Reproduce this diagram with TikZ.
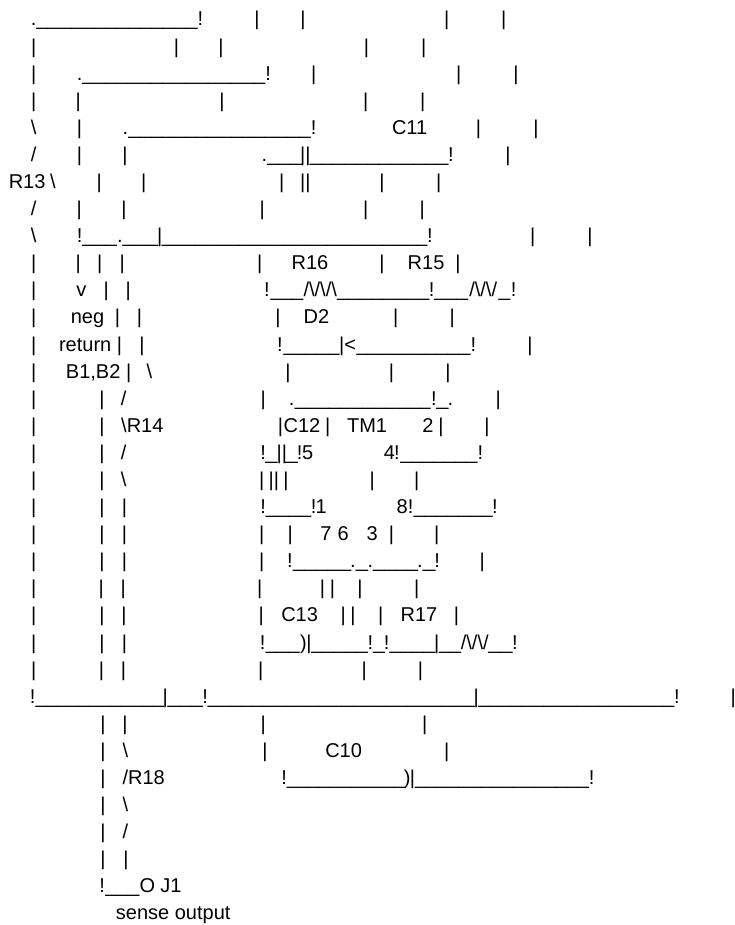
\documentclass[tikz,border=0pt]{standalone}
\usepackage{fontspec}
\usepackage{graphicx}
\setmainfont{Liberation Sans}
\newcount\tkn
\tikzset{tok/.style={inner sep=0pt,outer sep=0pt,anchor=base,font=\fontsize{20}{24}\selectfont,text=black}}
% current text line
\newcommand\LL[1]{\pgfmathsetmacro\cury{925-26-27.09*(#1-1)}}
% token centred at x given in reference-measure units
\newcommand\tk[2]{\global\advance\tkn by 1\relax
  \pgfmathsetmacro\curx{#1/2.136}%
  \node[tok] (t\the\tkn) at (\curx pt,\cury pt) {#2};}
\newcommand\bs{\textbackslash}
\newcommand\tkb[1]{\foreach \zz in {#1}{\tk{\zz}{|}}}
% run of underscores between two x positions
\newcommand\ru[2]{\pgfmathtruncatemacro\rn{max(1,round((#2-#1)/23.75))}%
  \pgfmathsetmacro\rs{(#2-#1)/2.136/(\rn*11.12)}%
  \pgfmathsetmacro\rc{(#1+#2)/2}%
  \tk{\rc}{\scalebox{\rs}[1]{\foreach \ii in {1,...,\rn}{\textunderscore}}}}
\begin{document}
\begin{tikzpicture}
\useasboundingbox (0,0) rectangle (734pt,925pt);
\fill[white] (0,0) rectangle (734pt,925pt);
\LL{1} \tk{72}{.} \ru{78}{422} \tk{428}{!} \tkb{549,647,954,1076}
\LL{2} \tkb{72,377,472,783,905}
\LL{3} \tkb{72,670,980,1102} \tk{170}{.} \ru{176}{567} \tk{573}{!}
\LL{4} \tkb{72,167,474,781,903}
\LL{5} \tk{72}{\bs} \tkb{170,1022,1145} \tk{268}{.} \ru{274}{664} \tk{670}{!} \tk{875}{C11}
\LL{6} \tk{72}{/} \tkb{170,267,1085} \tk{565}{.} \ru{571}{645} \tk{652}{||} \ru{662}{958} \tk{963}{!}
\LL{7} \tk{58}{R13} \tk{113}{\bs} \tkb{212,307,602,816,937} \tk{652}{||}
\LL{8} \tk{72}{/} \tkb{169,265,560,781,902}
\LL{9} \tk{72}{\bs} \tk{170}{!} \ru{176}{250} \tk{256}{.} \ru{262}{338} \tkb{341,1138,1260} \ru{346}{913} \tk{918}{!}
\LL{10} \tkb{72,167,213,261,555,816,978} \tk{662}{R16} \tk{910}{R15}
\LL{11} \tkb{72,227,274} \tk{174}{v} \tk{570}{!} \ru{578}{648} \tk{684}{/\bs/\bs/\bs} \ru{720}{917} \tk{922}{!} \ru{928}{1000} \tk{1032}{/\bs/\bs/} \ru{1065}{1090} \tk{1097}{!}
\LL{12} \tkb{72,251,298,594,845,966} \tk{187}{neg} \tk{676}{D2}
\LL{13} \tkb{72,255,303,730,1132} \tk{182}{return} \tk{598}{!} \ru{606}{725} \tk{748}{<} \ru{762}{1005} \tk{1011}{!}
\LL{14} \tkb{72,275,615,836,957} \tk{199}{B1,B2} \tk{319}{\bs}
\LL{15} \tkb{72,218,562,1064} \tk{264}{/} \tk{623}{.} \ru{630}{920} \tk{927}{!} \ru{932}{958} \tk{962}{.}
\LL{16} \tkb{72,218,599,700,942,1040} \tk{304}{\bs R14} \tk{645}{C12} \tk{784}{TM1} \tk{914}{2}
\LL{17} \tkb{72,218} \tk{264}{/} \tk{562}{!} \ru{567}{593} \tk{602}{||} \ru{610}{636} \tk{640}{!} \tk{657}{5} \tk{832}{4} \tk{848}{!} \ru{855}{1020} \tk{1026}{!}
\LL{18} \tkb{72,218,559,611,795,890} \tk{264}{\bs} \tk{585}{||}
\LL{19} \tkb{72,218,266} \tk{562}{!} \ru{568}{665} \tk{670}{!} \tk{686}{1} \tk{859}{8} \tk{877}{!} \ru{884}{1052} \tk{1057}{!}
\LL{20} \tkb{72,218,266,559,620,836,933} \tk{696}{7} \tk{733}{6} \tk{795}{3}
\LL{21} \tkb{72,218,266,559,1030} \tk{619}{!} \ru{626}{750} \tk{754}{.} \ru{760}{786} \tk{791}{.} \ru{797}{893} \tk{897}{.} \ru{903}{930} \tk{934}{!}
\LL{22} \tkb{72,216,263,555,689,710,769,890}
\LL{23} \tkb{72,218,265,558,733,754,813,975} \tk{640}{C13} \tk{895}{R17}
\LL{24} \tkb{72,218,266,660,933} \tk{561}{!} \ru{568}{640} \tk{648}{)} \ru{665}{786} \tk{791}{!} \ru{797}{822} \tk{826}{!} \ru{832}{930} \ru{938}{985} \tk{1014}{/\bs/\bs/} \ru{1043}{1095} \tk{1100}{!}
\LL{25} \tkb{72,217,264,557,778,898}
\LL{26} \tk{70}{!} \ru{76}{350} \tkb{353,1017,1566} \ru{358}{433} \tk{438}{!} \ru{444}{1014} \ru{1022}{1440} \tk{1446}{!}
\LL{27} \tkb{220,267,562,907}
\LL{28} \tkb{220,566,954} \tk{268}{\bs} \tk{734}{C10}
\LL{29} \tkb{220,881} \tk{307}{/R18} \tk{607}{!} \ru{613}{865} \tk{870}{)} \ru{887}{1258} \tk{1264}{!}
\LL{30} \tkb{220} \tk{268}{\bs}
\LL{31} \tkb{220} \tk{268}{/}
\LL{32} \tkb{220,269}
\LL{33} \tk{218}{!} \ru{225}{298} \tk{315}{O} \tk{365}{J1}
\LL{34} \tk{370}{sense output}
\end{tikzpicture}
\end{document}
